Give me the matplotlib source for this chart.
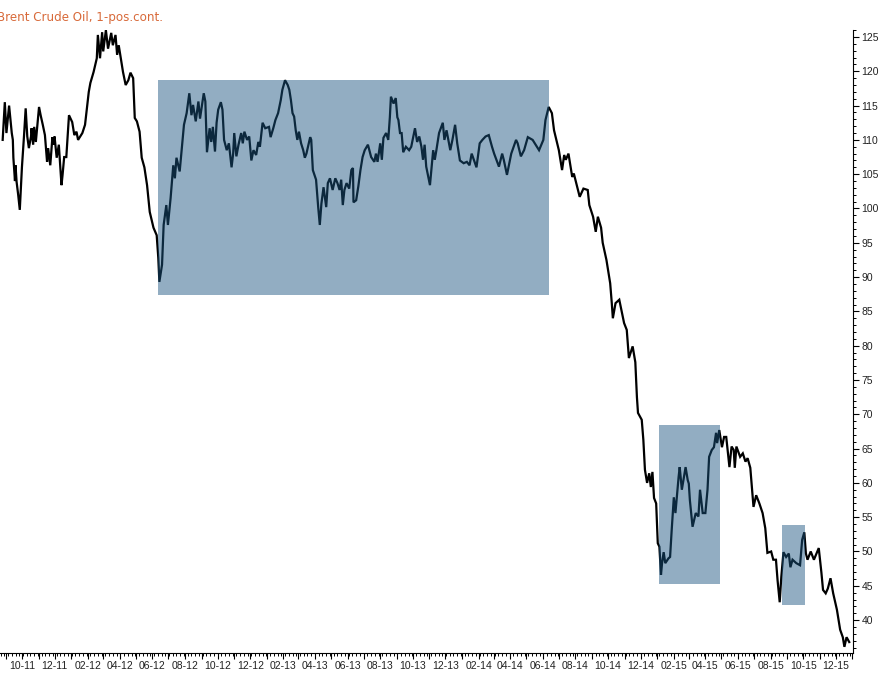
import matplotlib
matplotlib.use("Agg")
import matplotlib.pyplot as plt
import matplotlib.dates as mdates
from matplotlib.ticker import MultipleLocator, FuncFormatter
from matplotlib.patches import Rectangle
import pandas as pd

title = "Brent Crude Oil, 1-pos.cont."

d2011 = ["08-26", "08-30", "09-02", "09-07", "09-12", "09-14", "09-15", "09-18", "09-19", "09-21",
         "09-24", "09-27", "10-01", "10-05", "10-08", "10-11", "10-14", "10-18", "10-19", "10-22",
         "10-24", "10-27", "10-30", "11-02", "11-05", "11-09", "11-13", "11-17", "11-19", "11-23",
         "11-27", "11-29", "12-01", "12-05", "12-09", "12-14", "12-16", "12-19", "12-23", "12-28"]
p2011 = [110, 115.5, 111, 115, 111, 110, 107.4, 104, 106.3, 103.9,
         102, 99.8, 106, 110.7, 114.6, 110.5, 108.8, 110.5, 111.7, 109.3,
         111.9, 109.7, 112.2, 114.8, 113.6, 112.2, 110.7, 106.8, 108.8, 106.3,
         110.4, 109.3, 110.5, 107.4, 109.3, 103.4, 104.9, 107.5, 107.5, 113.6]

d2012 = ["01-03", "01-07", "01-11", "01-14", "01-22", "01-27", "02-03", "02-06", "02-12", "02-18",
         "02-20", "02-24", "02-28", "03-01", "03-06", "03-10", "03-16", "03-19", "03-24", "03-27",
         "03-30", "04-03", "04-07", "04-12", "04-17", "04-21", "04-26", "04-29", "05-03", "05-08",
         "05-12", "05-17", "05-22", "05-27", "06-03", "06-09", "06-12", "06-14", "06-19", "06-22",
         "06-27", "06-30", "07-05", "07-10", "07-13", "07-16", "07-22", "07-27", "07-30", "08-04",
         "08-09", "08-13", "08-16", "08-21", "08-26", "08-29", "09-05", "09-08", "09-11", "09-16",
         "09-19", "09-22", "09-26", "09-29", "10-02", "10-07", "10-10", "10-13", "10-18", "10-22",
         "10-27", "10-30", "11-01", "11-05", "11-09", "11-14", "11-17", "11-20", "11-25", "11-29",
         "12-03", "12-07", "12-12", "12-16", "12-19", "12-24", "12-29"]
p2012 = [112.6, 110.7, 111.2, 110, 111, 112.2, 117, 118.3, 119.9, 121.9,
         125.3, 121.9, 125.7, 122.9, 126, 123.3, 125.6, 123.8, 125.3, 122.4,
         123.8, 121.9, 119.9, 118, 118.7, 119.8, 119, 113.2, 112.7, 111.2,
         107.4, 106, 103.4, 99.5, 97.2, 96.1, 92.8, 89.3, 91.8, 97.6,
         100.5, 97.6, 101.5, 106.3, 104.4, 107.4, 105.4, 109.7, 112.2, 113.9,
         116.8, 113.6, 115.1, 112.7, 115.6, 113.1, 116.8, 115.6, 108.2, 111.7,
         109.7, 111.9, 108.3, 112.5, 114.4, 115.5, 114.4, 110, 108.5, 109.5,
         106, 108, 111, 107.6, 109.3, 111, 109.5, 111.2, 110, 110.5,
         107, 108.5, 107.8, 109.7, 109, 112.5, 111.7]

d2013 = ["01-05", "01-08", "01-13", "01-17", "01-22", "01-27", "01-30", "02-04", "02-09", "02-12",
         "02-15", "02-18", "02-21", "02-24", "02-27", "03-02", "03-06", "03-10", "03-13", "03-16",
         "03-23", "03-25", "03-28", "04-03", "04-07", "04-10", "04-13", "04-17", "04-22", "04-25",
         "04-29", "05-04", "05-09", "05-13", "05-17", "05-20", "05-23", "05-26", "05-30", "06-04",
         "06-08", "06-11", "06-12", "06-17", "06-21", "06-25", "06-29", "07-03", "07-09", "07-15",
         "07-21", "07-24", "07-27", "08-01", "08-04", "08-07", "08-12", "08-16", "08-19", "08-21",
         "08-26", "08-30", "09-02", "09-04", "09-07", "09-10", "09-13", "09-18", "09-24", "09-28",
         "10-05", "10-09", "10-13", "10-17", "10-20", "10-23", "10-26", "11-02", "11-08", "11-11",
         "11-14", "11-19", "11-26", "11-29", "12-03", "12-10", "12-14", "12-19", "12-23", "12-28"]
p2013 = [111.9, 110.4, 111.7, 112.9, 113.9, 115.8, 117.3, 118.7, 118, 117.3,
         115.8, 113.9, 113.4, 111.4, 110, 111.2, 109.5, 108.5, 107.4, 108,
         110.4, 110, 105.6, 104.2, 100.2, 97.6, 100.7, 103.1, 100.2, 103.7,
         104.4, 102.7, 104.4, 103.7, 102.7, 104.2, 100.5, 102.7, 103.7, 102.9,
         105.6, 105.9, 100.9, 101.2, 103.2, 105.6, 107.5, 108.5, 109.3, 107.5,
         106.8, 108, 106.8, 109.5, 107.1, 110.3, 111, 110, 113.3, 116.3,
         115.3, 116.1, 113.3, 112.9, 111, 111, 108.2, 109, 108.5, 109,
         111.7, 109.7, 110.5, 109, 107.1, 109.3, 106.1, 103.4, 108.5, 107.1,
         108.5, 111, 112.5, 110, 111.4, 108.5, 110, 112.2, 109.5, 107]

d2014 = ["01-04", "01-10", "01-15", "01-19", "01-23", "01-28", "02-03", "02-08", "02-14", "02-20",
         "02-26", "03-02", "03-11", "03-17", "03-20", "03-26", "04-03", "04-12", "04-15", "04-21",
         "04-27", "05-04", "05-13", "05-25", "06-02", "06-06", "06-12", "06-18", "06-22", "07-01",
         "07-07", "07-11", "07-14", "07-19", "07-26", "07-29", "08-09", "08-16", "08-24", "08-27",
         "09-03", "09-08", "09-12", "09-18", "09-21", "09-28", "10-05", "10-08", "10-10", "10-15",
         "10-22", "10-31", "11-05", "11-09", "11-16", "11-21", "11-24", "11-26", "12-03", "12-06",
         "12-09", "12-13", "12-17", "12-20", "12-23", "12-26", "12-30"]
p2014 = [106.6, 106.8, 106.3, 108, 107.1, 106, 109.5, 110, 110.5, 110.7,
         109, 108, 106.1, 108, 107.1, 104.9, 108, 110, 109.5, 107.6,
         108.5, 110.4, 110, 108.5, 110, 112.9, 114.8, 113.9, 111.4, 108.5,
         105.6, 107.8, 107.1, 108, 104.6, 105.1, 101.7, 102.9, 102.7, 100.5,
         98.8, 96.6, 98.8, 97.2, 95, 92.5, 89.1, 86.2, 84, 86.2,
         86.7, 83.3, 82.3, 78.2, 79.9, 77.6, 72.5, 70.2, 69.2, 66.3,
         61.9, 60, 61.4, 59.4, 61.6, 57.8, 57]

d2015 = ["01-02", "01-05", "01-08", "01-10", "01-13", "01-16", "01-22", "01-25", "01-28", "02-01",
         "02-04", "02-07", "02-10", "02-12", "02-16", "02-23", "02-27", "03-01", "03-03", "03-08",
         "03-14", "03-19", "03-22", "03-27", "04-01", "04-05", "04-08", "04-13", "04-17", "04-21",
         "04-23", "04-27", "05-02", "05-06", "05-10", "05-16", "05-20", "05-24", "05-26", "05-29",
         "06-05", "06-10", "06-15", "06-19", "06-24", "06-28", "06-30", "07-05", "07-11", "07-17",
         "07-22", "07-26", "08-02", "08-06", "08-11", "08-14", "08-18", "08-21", "08-25", "08-30",
         "09-04", "09-07", "09-11", "09-18", "09-25", "09-29", "10-03", "10-06", "10-09", "10-15",
         "10-21", "10-30", "11-04", "11-07", "11-12", "11-16", "11-21", "11-26", "12-03", "12-09",
         "12-14", "12-17", "12-21", "12-26"]
p2015 = [51.2, 50.7, 46.6, 48.3, 49.9, 48.3, 49, 49.2, 53.1, 57.9,
         55.6, 58.2, 60.9, 62.3, 59, 62.3, 60.4, 59.9, 57.5, 53.6,
         55.6, 55.1, 59, 55.6, 55.6, 59, 63.8, 64.8, 65.2, 67.3,
         65.8, 67.7, 65.2, 66.7, 66.7, 62.3, 65.3, 64.8, 62.2, 65.3,
         63.8, 64.3, 63.1, 63.6, 62.2, 58.5, 56.5, 58.2, 57, 55.6,
         53.4, 49.8, 50, 48.8, 48.8, 45.8, 42.6, 46.3, 49.9, 49.2,
         49.7, 47.7, 48.8, 48.3, 48, 51.7, 52.8, 49.7, 48.8, 50,
         48.8, 50.5, 46.9, 44.4, 43.9, 44.6, 46.1, 43.9, 41.5, 38.6,
         37.5, 36.1, 37.5, 36.8]

# highlighted ranges: start, end, low, high
box_start = ["2012-06-12", "2015-01-05", "2015-08-23"]
box_end = ["2014-06-12", "2015-04-29", "2015-10-04"]
box_low = [87.4, 45.3, 42.2]
box_high = [118.7, 68.4, 53.9]

dates, prices = [], []
for yr, ds, ps in [(2011, d2011, p2011), (2012, d2012, p2012), (2013, d2013, p2013),
                   (2014, d2014, p2014), (2015, d2015, p2015)]:
    dates += [pd.Timestamp(f"{yr}-{d}") for d in ds]
    prices += ps

fig = plt.figure(figsize=(8.84, 6.85), dpi=100)
ax = fig.add_axes([0.0, 0.0467, 0.9649, 0.956 - 0.0467])

ax.plot(dates, prices, color="black", lw=1.6, zorder=2, solid_joinstyle="miter")

for s, e, lo, hi in zip(box_start, box_end, box_low, box_high):
    x0 = mdates.date2num(pd.Timestamp(s))
    x1 = mdates.date2num(pd.Timestamp(e))
    ax.add_patch(Rectangle((x0, lo), x1 - x0, hi - lo, facecolor="#1b5580",
                           alpha=0.48, lw=0, zorder=3))

ax.set_xlim(pd.Timestamp("2011-08-21"), pd.Timestamp("2016-01-02"))
ax.set_ylim(35.2, 126.0)

for sp in ["left", "top"]:
    ax.spines[sp].set_visible(False)
for sp in ["right", "bottom"]:
    ax.spines[sp].set_linewidth(0.8)
    ax.spines[sp].set_color("black")

ax.yaxis.tick_right()
ax.yaxis.set_major_locator(MultipleLocator(5))
ax.yaxis.set_minor_locator(MultipleLocator(1))

ax.xaxis.set_major_locator(mdates.MonthLocator())
ax.xaxis.set_minor_locator(mdates.WeekdayLocator(byweekday=mdates.MO))


def fmt(x, pos):
    d = mdates.num2date(x)
    return d.strftime("%m-%y") if d.month % 2 == 0 else ""


ax.xaxis.set_major_formatter(FuncFormatter(fmt))

ax.tick_params(axis="both", which="major", direction="out", length=4, width=0.8,
               colors="black", labelsize=7.5, labelcolor="#222222")
ax.tick_params(axis="both", which="minor", direction="out", length=2.2, width=0.7,
               colors="black")
ax.tick_params(axis="y", pad=2)
ax.tick_params(axis="x", pad=2)
for lab in ax.get_xticklabels() + ax.get_yticklabels():
    lab.set_fontfamily("Liberation Sans")

fig.text(-0.003, 0.975, title, color="#d86a3a", fontsize=8.6, family="DejaVu Sans",
         ha="left", va="center")

fig.savefig("out.png", dpi=100)
